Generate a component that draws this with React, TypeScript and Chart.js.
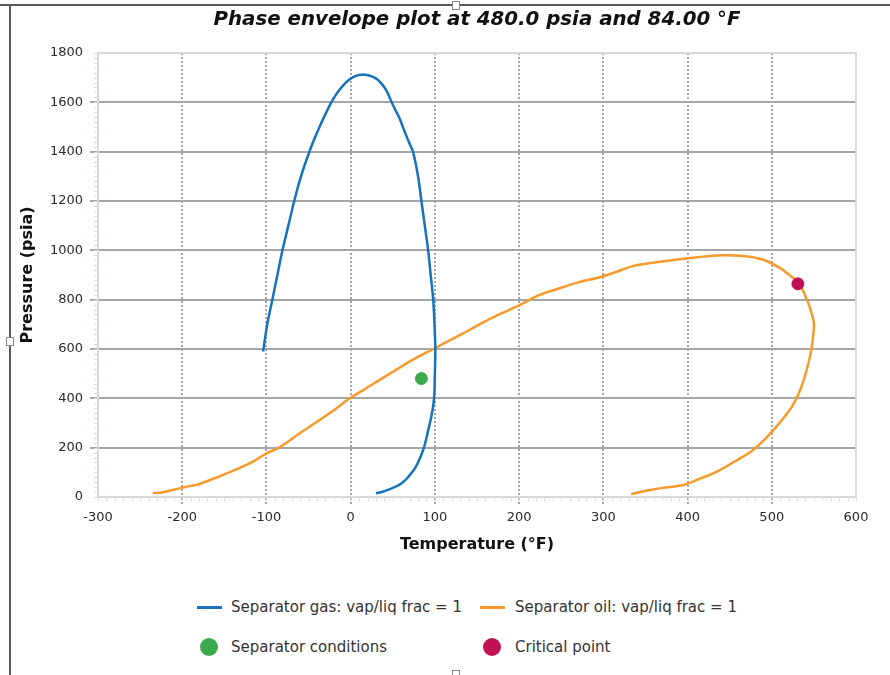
import React, { useEffect, useRef } from "react";
import { Chart, registerables } from "chart.js";

Chart.register(...registerables);

// Separator gas: vap/liq frac = 1 (dew curve)
const gasT = [-104, -99, -93, -87, -81, -74, -67, -59, -49, -43, -37, -30, -23, -18, -13, -8, -3, 2, 7, 13, 19, 25, 31, 36, 41, 45, 48, 53, 58, 62, 66, 70, 74, 80, 84, 88, 92, 95, 98, 99.5, 100.5, 100, 99, 96, 92, 87, 82, 77, 71, 66, 63, 58, 52, 45, 38, 30];
const gasP = [590, 700, 800, 900, 1000, 1100, 1200, 1300, 1400, 1452, 1500, 1552, 1600, 1628, 1652, 1672, 1688, 1700, 1708, 1712, 1711, 1705, 1694, 1678, 1656, 1630, 1605, 1570, 1535, 1500, 1465, 1432, 1400, 1300, 1200, 1100, 1000, 900, 800, 700, 600, 500, 400, 330, 270, 200, 155, 120, 92, 72, 63, 50, 40, 30, 21, 15];

// Separator oil: vap/liq frac = 1
const oilT = [-235, -225, -213, -203, -190, -183, -170, -152, -135, -116, -100, -85, -63, -41, -20, -1, 17, 35, 55, 74, 98, 118, 134, 153, 175, 201, 225, 250, 272, 296, 315, 336, 370, 401, 435, 463, 490, 510, 522, 533, 540, 546, 550, 549, 547, 543, 538, 532, 524, 514, 504, 492, 478, 458, 435, 415, 395, 370, 352, 333];
const oilP = [16, 18, 27, 35, 45, 49, 65, 89, 113, 143, 177, 200, 252, 303, 352, 400, 438, 476, 518, 557, 600, 636, 664, 700, 738, 779, 820, 848, 872, 891, 912, 937, 955, 968, 979, 978, 962, 928, 897, 863, 813, 760, 705, 650, 597, 535, 475, 420, 366, 320, 279, 235, 191, 148, 103, 75, 49, 37, 26, 12];

const sepT = [84];
const sepP = [480];
const critT = [531];
const critP = [864];

const xMin = -300;
const xMax = 600;
const xStep = 100;
const yMin = 0;
const yMax = 1800;
const yStep = 200;

const titleText = "Phase envelope plot at 480.0 psia and 84.00 \u00B0F";
const xTitle = "Temperature (\u00B0F)";
const yTitle = "Pressure (psia)";
const legendLabels = [
  "Separator gas: vap/liq frac = 1",
  "Separator oil: vap/liq frac = 1",
  "Separator conditions",
  "Critical point",
];

const BLUE = "#1673bd";
const ORANGE = "#f79a2b";
const GREEN = "#3aab4a";
const CRIMSON = "#c01250";

const toXY = (xs: number[], ys: number[]) => xs.map((x, i) => ({ x, y: ys[i] }));

const framePlugin = {
  id: "frameMinor",
  beforeDatasetsDraw(chart: any) {
    const { ctx, chartArea: a, scales } = chart;
    ctx.save();
    ctx.strokeStyle = "#d9d9d9";
    ctx.lineWidth = 2;
    ctx.beginPath();
    ctx.moveTo(a.left, a.top);
    ctx.lineTo(a.right, a.top);
    ctx.lineTo(a.right, a.bottom);
    ctx.stroke();
    ctx.strokeStyle = "#cddcee";
    ctx.lineWidth = 1;
    ctx.beginPath();
    for (let v = xMin; v <= xMax; v += 10) {
      const x = Math.round(scales.x.getPixelForValue(v)) + 0.5;
      ctx.moveTo(x, a.bottom + 1);
      ctx.lineTo(x, a.bottom + 4);
    }
    for (let v = yMin; v <= yMax; v += 20) {
      const y = Math.round(scales.y.getPixelForValue(v)) + 0.5;
      ctx.moveTo(a.left - 4, y);
      ctx.lineTo(a.left - 1, y);
    }
    ctx.stroke();
    ctx.restore();
  },
};

function ChartView() {
  const ref = useRef<HTMLCanvasElement | null>(null);
  useEffect(() => {
    if (!ref.current) return;
    const chart = new Chart(ref.current, {
      type: "scatter",
      data: {
        datasets: [
          {
            label: legendLabels[2],
            data: toXY(sepT, sepP),
            backgroundColor: GREEN,
            borderColor: GREEN,
            pointRadius: 6,
            order: 0,
          },
          {
            label: legendLabels[3],
            data: toXY(critT, critP),
            backgroundColor: CRIMSON,
            borderColor: CRIMSON,
            pointRadius: 6,
            order: 1,
          },
          {
            label: legendLabels[0],
            data: toXY(gasT, gasP),
            showLine: true,
            borderColor: BLUE,
            backgroundColor: BLUE,
            borderWidth: 2.5,
            pointRadius: 0,
            tension: 0.35,
            order: 2,
          },
          {
            label: legendLabels[1],
            data: toXY(oilT, oilP),
            showLine: true,
            borderColor: ORANGE,
            backgroundColor: ORANGE,
            borderWidth: 2.5,
            pointRadius: 0,
            tension: 0.3,
            order: 3,
          },
        ],
      },
      options: {
        responsive: false,
        animation: false,
        layout: { padding: { left: 0, right: 34, top: 0, bottom: 0 } },
        plugins: {
          legend: { display: false },
          tooltip: { enabled: false },
          title: {
            display: true,
            text: titleText,
            fullSize: false,
            color: "#111",
            font: { family: "DejaVu Sans", size: 19.8, weight: "bold", style: "italic" },
            padding: { top: 7.5, bottom: 21.7 },
          },
        },
        scales: {
          x: {
            type: "linear",
            min: xMin,
            max: xMax,
            afterFit: (s: any) => {
              s.height = 63;
            },
            ticks: {
              stepSize: xStep,
              color: "#2a2a2a",
              padding: 5,
              font: { family: "DejaVu Sans", size: 13 },
              callback: (v: any) => String(v),
            },
            grid: {
              color: (c: any) =>
                c.tick && (c.tick.value === xMin || c.tick.value === xMax) ? "rgba(0,0,0,0)" : "#a3a3a3",
              lineWidth: 2,
              tickLength: 8,
              tickBorderDash: [2, 2],
            },
            border: { display: true, color: "#d9d9d9", width: 2, dash: [2, 2] },
            title: {
              display: true,
              text: xTitle,
              color: "#111",
              font: { family: "DejaVu Sans", size: 16, weight: "bold" },
              padding: { top: 4, bottom: 5.4 },
            },
          },
          y: {
            type: "linear",
            min: yMin,
            max: yMax,
            afterFit: (s: any) => {
              s.width = 98;
            },
            ticks: {
              stepSize: yStep,
              color: "#2a2a2a",
              padding: 7,
              font: { family: "DejaVu Sans", size: 13 },
              callback: (v: any) => String(v),
            },
            grid: {
              color: (c: any) =>
                c.tick && (c.tick.value === yMin || c.tick.value === yMax) ? "rgba(0,0,0,0)" : "#a6a6a6",
              lineWidth: 2,
              tickLength: 8,
            },
            border: { display: true, color: "#d9d9d9", width: 2 },
            title: {
              display: true,
              text: yTitle,
              color: "#111",
              font: { family: "DejaVu Sans", size: 16, weight: "bold" },
              padding: { top: 18.4, bottom: 0 },
            },
          },
        },
      },
      plugins: [framePlugin],
    } as any);
    return () => chart.destroy();
  }, []);
  return (
    <canvas
      ref={ref}
      width={890}
      height={560}
      style={{ position: "absolute", left: 0, top: 0, width: 890, height: 560, display: "block" }}
    />
  );
}

const legendText: React.CSSProperties = {
  position: "absolute",
  fontFamily: "DejaVu Sans",
  fontSize: 15,
  color: "#333",
  lineHeight: "18px",
  whiteSpace: "nowrap",
};

export default function App() {
  return (
    <div
      style={{
        position: "absolute",
        left: 0,
        top: 0,
        width: 890,
        height: 675,
        background: "#fff",
        overflow: "hidden",
      }}
    >
      <ChartView />
      {/* frame of the selected panel */}
      <div style={{ position: "absolute", left: 0, top: 4, width: 890, height: 2, background: "#5a5a5a" }} />
      <div style={{ position: "absolute", left: 9, top: 5, width: 2, height: 670, background: "#5a5a5a" }} />
      <div style={{ position: "absolute", left: 452, top: 1, width: 6, height: 7, background: "#fff", border: "1px solid #888" }} />
      <div style={{ position: "absolute", left: 6, top: 337, width: 6, height: 7, background: "#fff", border: "1px solid #888" }} />
      <div style={{ position: "absolute", left: 452, top: 670, width: 6, height: 7, background: "#fff", border: "1px solid #888" }} />
      {/* legend */}
      <div style={{ position: "absolute", left: 197, top: 606, width: 25, height: 3, background: BLUE }} />
      <div style={{ ...legendText, left: 231, top: 598 }}>{legendLabels[0]}</div>
      <div style={{ position: "absolute", left: 480, top: 606, width: 25, height: 3, background: ORANGE }} />
      <div style={{ ...legendText, left: 515, top: 598 }}>{legendLabels[1]}</div>
      <div style={{ position: "absolute", left: 200, top: 638, width: 18, height: 18, borderRadius: "50%", background: GREEN }} />
      <div style={{ ...legendText, left: 231, top: 638 }}>{legendLabels[2]}</div>
      <div style={{ position: "absolute", left: 483, top: 638, width: 18, height: 18, borderRadius: "50%", background: CRIMSON }} />
      <div style={{ ...legendText, left: 515, top: 638 }}>{legendLabels[3]}</div>
    </div>
  );
}
